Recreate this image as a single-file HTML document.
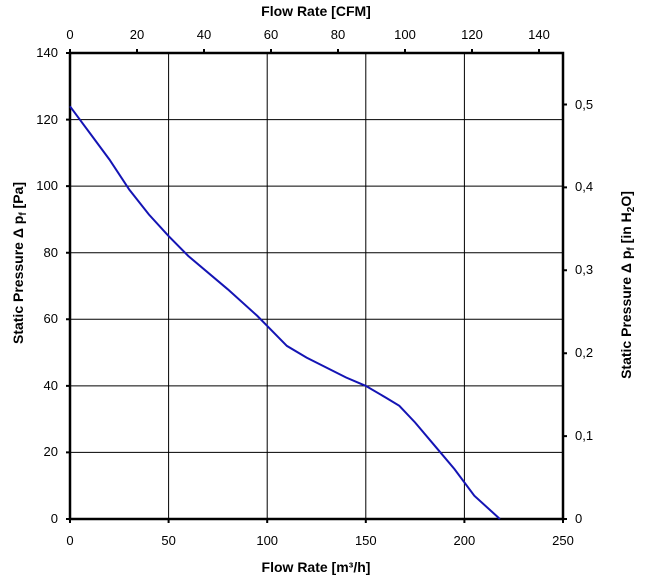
<!DOCTYPE html>
<html><head><style>body{margin:0;background:#fff}svg{display:block}text{font-family:"Liberation Sans",Arial,sans-serif;font-size:13px;fill:#000}.b{font-weight:bold;font-size:14px}</style></head><body>
<svg width="647" height="582" viewBox="0 0 647 582">
<g stroke="#000" stroke-width="1">
<line x1="168.6" y1="53" x2="168.6" y2="519"/><line x1="267.2" y1="53" x2="267.2" y2="519"/><line x1="365.8" y1="53" x2="365.8" y2="519"/><line x1="464.4" y1="53" x2="464.4" y2="519"/>
<line x1="70" y1="119.6" x2="563" y2="119.6"/><line x1="70" y1="186.1" x2="563" y2="186.1"/><line x1="70" y1="252.7" x2="563" y2="252.7"/><line x1="70" y1="319.3" x2="563" y2="319.3"/><line x1="70" y1="385.9" x2="563" y2="385.9"/><line x1="70" y1="452.4" x2="563" y2="452.4"/>
</g>
<g stroke="#000" stroke-width="2.5" fill="none"><rect x="70" y="53" width="493" height="466"/></g>
<g stroke="#000" stroke-width="2">
<path d="M66 53h4M66 119.6h4M66 186.1h4M66 252.7h4M66 319.3h4M66 385.9h4M66 452.4h4M66 519h4"/>
<path d="M70 519v4M168.6 519v4M267.2 519v4M365.8 519v4M464.4 519v4M563 519v4"/>
<path d="M70 53v-4M137 53v-4M204 53v-4M271 53v-4M338 53v-4M405 53v-4M472 53v-4M539 53v-4"/>
<path d="M563 519h4M563 436.1h4M563 353.2h4M563 270.3h4M563 187.4h4M563 104.5h4"/>
</g>
<polyline fill="none" stroke="#1414b4" stroke-width="2" points="70,106.3 89.7,132.9 109.4,159.5 129.2,189.5 148.9,214.5 168.6,236.1 188.3,256.0 227.8,289.3 257.3,315.9 267.2,325.9 286.9,345.9 306.6,357.6 346.1,377.5 365.8,385.9 385.6,397.5 399.3,405.8 415.1,422.5 434.8,445.8 454.5,469.1 474.3,495.7 499.9,519"/>
<g text-anchor="end"><text x="58" y="57">140</text><text x="58" y="124">120</text><text x="58" y="190">100</text><text x="58" y="257">80</text><text x="58" y="323">60</text><text x="58" y="390">40</text><text x="58" y="456">20</text><text x="58" y="523">0</text></g>
<g text-anchor="middle"><text x="70" y="545">0</text><text x="168.6" y="545">50</text><text x="267.2" y="545">100</text><text x="365.8" y="545">150</text><text x="464.4" y="545">200</text><text x="563" y="545">250</text>
<text x="70" y="39">0</text><text x="137" y="39">20</text><text x="204" y="39">40</text><text x="271" y="39">60</text><text x="338" y="39">80</text><text x="405" y="39">100</text><text x="472" y="39">120</text><text x="539" y="39">140</text>
<text class="b" x="316" y="16">Flow Rate [CFM]</text><text class="b" x="316" y="572">Flow Rate [m³/h]</text></g>
<g><text x="575" y="523">0</text><text x="575" y="440">0,1</text><text x="575" y="357">0,2</text><text x="575" y="274">0,3</text><text x="575" y="191">0,4</text><text x="575" y="109">0,5</text></g>
<text class="b" text-anchor="middle" transform="translate(23,263) rotate(-90)">Static Pressure Δ p<tspan font-size="10" dy="3">f</tspan><tspan dy="-3"> [Pa]</tspan></text>
<text class="b" text-anchor="middle" transform="translate(631,285) rotate(-90)">Static Pressure Δ p<tspan font-size="10" dy="3">f</tspan><tspan dy="-3"> [in H</tspan><tspan font-size="10" dy="3">2</tspan><tspan dy="-3">O]</tspan></text>
</svg>
</body></html>
